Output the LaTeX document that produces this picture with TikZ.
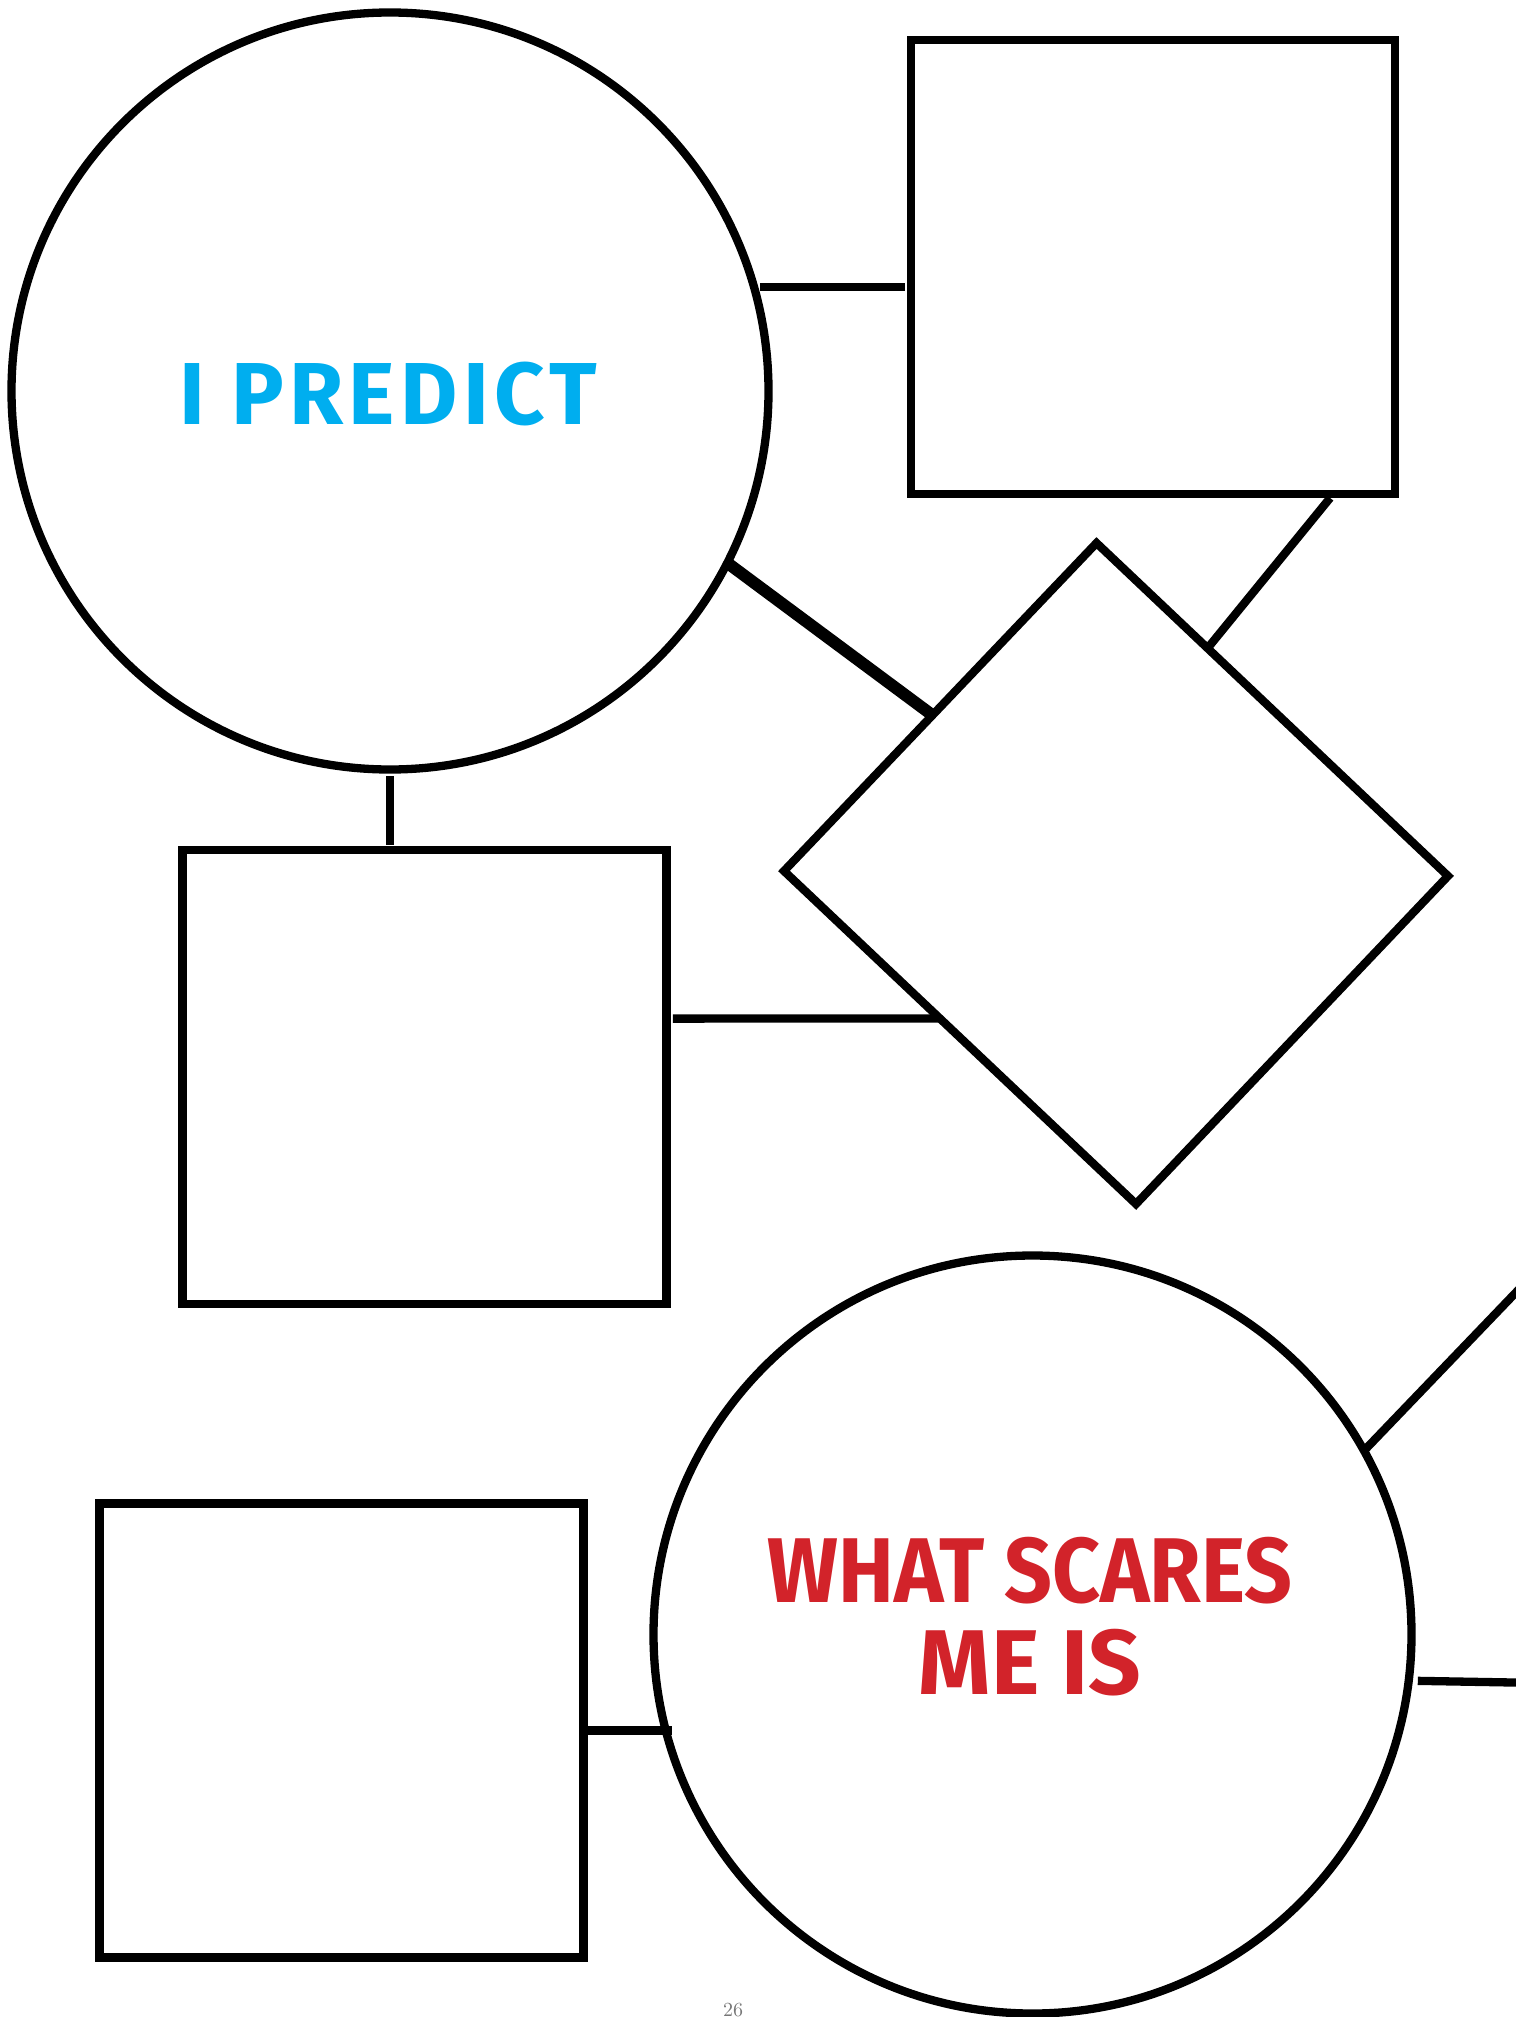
\documentclass[tikz,border=0pt]{standalone}
\usepackage{fontspec}
\newfontfamily\handfont{Fira Sans}
\newfontfamily\handfontspaced{Fira Sans}[LetterSpace=6]
\usetikzlibrary{calc}
\definecolor{predblue}{HTML}{00AEEF}
\definecolor{scarered}{HTML}{D2232A}
\definecolor{pagegray}{HTML}{777777}
\begin{document}
\begin{tikzpicture}[x=0.5pt,y=-0.5pt,
  shapeline/.style={line width=4.15pt, draw=black},
  conn/.style={line width=4.15pt},
  thickconn/.style={line width=6pt},
  bubble/.style={circle, shapeline, inner sep=0pt, outer sep=0pt},
  box/.style={rectangle, shapeline, inner sep=0pt, outer sep=0pt, minimum width=242pt, minimum height=227pt},
  handtext/.style={align=center, inner sep=0pt}
]
\useasboundingbox (0,0) rectangle (1515,2017);

% shapes
\node[bubble, minimum size=378.5pt] (c1) at (390,391) {};
\node[box] (r1) at (1152.9,266.75) {};
\node[box] (r2) at (424.4,1077) {};
\node[box] (r3) at (341.5,1730.4) {};
\node[bubble, minimum size=379pt] (c2) at (1032.5,1634.5) {};

\coordinate (dt) at (1096.5,543);
\coordinate (dr) at (1448,876);
\coordinate (db) at (1136,1204);
\coordinate (dl) at (784,871);
\draw[shapeline, line join=miter] (dt) -- (dr) -- (db) -- (dl) -- cycle;

% free ends off the page
\coordinate (off1) at (1600,1204.8);
\coordinate (off2) at (1600,1684);

% connectors
\draw[conn, shorten <=3.25pt, shorten >=2.9pt] (c1.16.18) -- (r1.west |- c1.16.18);
\draw[conn, shorten <=3.25pt, shorten >=2.5pt] (c1.south) -- (r2.north -| c1.south);
\draw[thickconn] (c1.-27.5) -- ($(dl)!0.475!(dt)$);
\draw[conn, shorten <=2.7pt] ([xshift=90.3pt]r1.south) -- ($(dt)!0.316!(dr)$);
\draw[conn, shorten <=3.2pt, shorten >=0.6pt] ([yshift=29.2pt]r2.east) -- ($(dl)!0.443!(db)$);
\draw[conn, shorten <=2pt, shorten >=-9.1pt] (r3.east) -- (r3.east -| c2.west);
\draw[conn, shorten <=0.7pt] (c2.29.6) -- (off1);
\draw[conn, shorten <=4.55pt] (c2.-7.05) -- (off2);

% texts
\node[handtext, text=predblue, font=\handfontspaced\bfseries\fontsize{44}{46}\selectfont] (t1) at (388,394) {I PREDICT};
\node[handtext, text=scarered, font=\handfont\bfseries\fontsize{46}{46}\selectfont] (t2) at (1030,1617) {\scalebox{0.91}[1]{WHAT SCARES}\\ME IS};
\node[anchor=base, text=pagegray, font=\fontsize{10}{12}\selectfont] (pg) at (733,2016) {26};
\end{tikzpicture}
\end{document}
